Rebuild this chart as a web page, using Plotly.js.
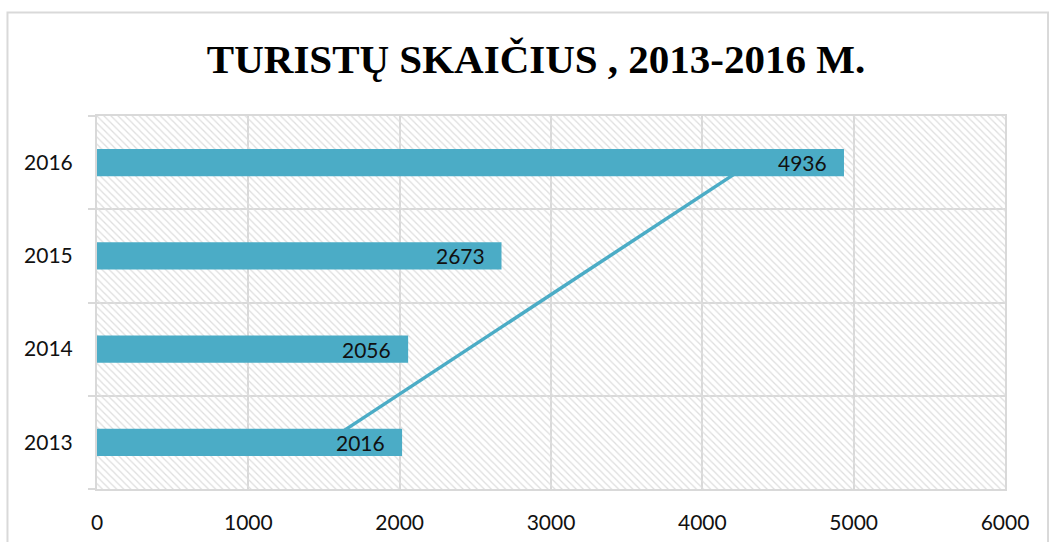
<!DOCTYPE html>
<html>
<head>
<meta charset="utf-8">
<script src="https://cdn.plot.ly/plotly-3.0.1.min.js"></script>
<style>
  html, body { margin: 0; padding: 0; background: #ffffff; }
  #chart { width: 1049px; height: 542px; }
</style>
</head>
<body>
<div id="chart"></div>
<script>
// ---- data ----
const years = ['2013', '2014', '2015', '2016'];
const tourists = [2016, 2056, 2673, 4936];
const xTickVals = [0, 1000, 2000, 3000, 4000, 5000, 6000];
const titleText = 'TURISTŲ SKAIČIUS , 2013-2016 M.';

// ---- derived ----
const idx = years.map((_, i) => i);
// linear trendline (least squares over category index), as in the source chart
const n = tourists.length;
const mx = idx.reduce((a, b) => a + b, 0) / n;
const my = tourists.reduce((a, b) => a + b, 0) / n;
let sxy = 0, sxx = 0;
for (let i = 0; i < n; i++) { sxy += (idx[i] - mx) * (tourists[i] - my); sxx += (idx[i] - mx) ** 2; }
const slope = sxy / sxx;
const intercept = my - slope * mx;
const trendY = [idx[0], idx[n - 1]];
const trendX = trendY.map(i => intercept + slope * i);

const barColor = '#4BACC6';
const gridColor = '#d9d9d9';
const labelFont = { family: 'Lato, "Open Sans", sans-serif', size: 21, color: '#111111' };
const xRange = [0, 6000];
const yRange = [-0.5, idx.length - 0.5];
const boundaries = [];
for (let b = yRange[0]; b <= yRange[1] + 1e-9; b += 1) boundaries.push(b);

const hatch = {
  type: 'scatter', xaxis: 'x', yaxis: 'y',
  x: [xRange[0], xRange[1], xRange[1], xRange[0], xRange[0]],
  y: [yRange[0], yRange[0], yRange[1], yRange[1], yRange[0]],
  mode: 'lines', line: { width: 0 }, fill: 'toself', fillcolor: 'rgba(0,0,0,0)',
  fillpattern: { shape: '\\', fgcolor: '#dedede', bgcolor: 'rgba(255,255,255,0)', size: 5, solidity: 0.25 },
  hoverinfo: 'skip', showlegend: false
};

const trend = {
  type: 'scatter', xaxis: 'x', yaxis: 'y',
  x: trendX, y: trendY, mode: 'lines',
  line: { color: barColor, width: 3.5 },
  hoverinfo: 'skip', showlegend: false
};

const bars = {
  type: 'bar', orientation: 'h', xaxis: 'x2', yaxis: 'y2',
  x: tourists, y: idx, width: 0.29,
  marker: { color: barColor, line: { width: 0 } },
  hoverinfo: 'x', showlegend: false
};

const annotations = tourists.map((v, i) => ({
  x: v, y: idx[i], xref: 'x2', yref: 'y2',
  text: String(v), showarrow: false,
  xanchor: 'right', yanchor: 'middle', xshift: -15,
  font: labelFont
}));

const layout = {
  width: 1049, height: 542,
  margin: { l: 97, r: 44, t: 116, b: 53, pad: 0 },
  paper_bgcolor: '#ffffff', plot_bgcolor: '#ffffff',
  showlegend: false,
  title: {
    text: '<b>' + titleText + '</b>',
    font: { family: '"Liberation Serif", "DejaVu Serif", serif', size: 41, color: '#000000' },
    xref: 'container', x: 0.511, xanchor: 'center',
    yref: 'container', y: 0.892, yanchor: 'middle'
  },
  xaxis: {
    range: xRange, tickmode: 'array', tickvals: xTickVals,
    showgrid: true, gridcolor: gridColor, gridwidth: 2,
    zeroline: false, showline: true, mirror: true, linecolor: gridColor, linewidth: 2,
    ticks: '', ticklabelstandoff: 14, tickfont: labelFont, fixedrange: true
  },
  yaxis: {
    range: yRange, tickmode: 'array', tickvals: idx, ticktext: years,
    showgrid: false, zeroline: false, showline: true, mirror: true, linecolor: gridColor, linewidth: 2,
    ticks: '', ticklabelstandoff: 18, tickfont: labelFont, fixedrange: true,
    minor: { tickmode: 'array', tickvals: boundaries, ticks: 'outside', ticklen: 7, tickwidth: 2,
             tickcolor: gridColor, showgrid: true, gridcolor: gridColor, gridwidth: 2 }
  },
  xaxis2: { overlaying: 'x', range: xRange, visible: false, fixedrange: true },
  yaxis2: { overlaying: 'y', range: yRange, visible: false, fixedrange: true },
  annotations: annotations,
  shapes: [{
    type: 'rect', xref: 'paper', yref: 'paper',
    x0: -0.0986, x1: 1.0474, y0: -0.3, y1: 1.2775,
    line: { color: '#d9d9d9', width: 2 }, fillcolor: 'rgba(0,0,0,0)', layer: 'below'
  }]
};

Plotly.newPlot('chart', [hatch, trend, bars], layout, { displayModeBar: false, staticPlot: true });
</script>
</body>
</html>
